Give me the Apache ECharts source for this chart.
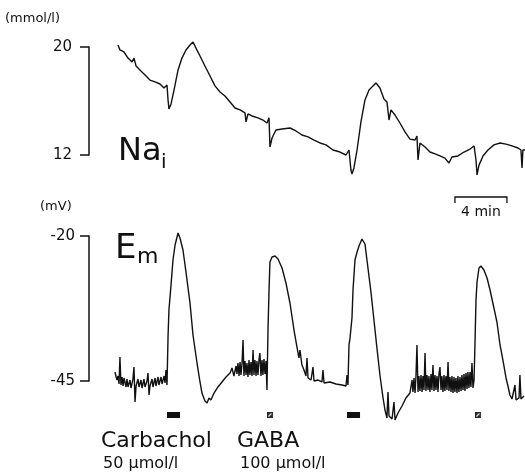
<!DOCTYPE html>
<html><head><meta charset="utf-8">
<script src="https://cdn.jsdelivr.net/npm/echarts@6/dist/echarts.min.js"></script>
<style>html,body{margin:0;padding:0;background:#fff}#c{width:525px;height:472px}</style>
</head><body><div id="c"></div>
<script>
// time in minutes, Na_i in mmol/l
const naTime = [2.23,2.38,2.69,3.00,3.31,3.46,3.62,3.92,4.31,4.69,
5.08,5.46,5.77,6.00,6.08,6.15,6.31,6.54,6.85,7.15,
7.46,7.77,8.00,8.23,8.54,8.92,9.31,9.69,10.08,10.46,
10.85,11.23,11.62,12.00,12.08,12.23,12.54,13.00,13.38,13.69,
13.85,13.92,14.08,14.38,14.85,15.46,15.92,16.38,16.85,17.31,
17.77,18.23,18.77,19.31,19.77,20.00,20.15,20.23,20.38,20.62,
20.92,21.23,21.54,21.85,22.08,22.38,22.69,22.92,23.08,23.23,
23.54,23.92,24.31,24.69,25.08,25.23,25.31,25.46,25.85,26.23,
26.62,27.00,27.38,27.69,27.92,28.38,28.85,29.31,29.62,29.77,
29.85,30.00,30.31,30.69,31.15,31.62,32.08,32.54,33.00,33.23,
33.31,33.38,33.54];
const naValue = [20.15,19.78,19.63,19.18,18.89,19.18,18.59,18.30,17.92,17.55,
17.41,17.26,16.96,17.18,16.08,15.41,15.78,16.81,18.30,19.18,
19.78,20.15,20.37,19.92,19.33,18.59,17.85,17.12,16.67,16.37,
15.93,15.48,15.34,15.12,14.45,15.04,14.89,14.75,14.59,14.37,
14.75,12.59,13.26,13.85,13.93,14.00,13.78,13.48,13.34,13.11,
12.89,12.75,12.37,12.22,12.00,12.37,10.89,10.59,11.04,12.37,
14.45,16.08,16.81,17.12,17.33,16.96,16.14,15.93,14.59,15.34,
14.96,14.37,13.71,13.18,13.11,13.41,11.63,12.89,12.59,12.22,
12.08,11.93,11.77,11.41,11.85,11.93,12.22,12.44,12.67,11.63,
10.52,11.25,11.93,12.37,12.75,12.89,12.81,12.67,12.52,12.37,
11.04,12.37,12.37];

// [time (min), E_m (mV)]
const emTrace = [
[2.00,-43.45],[2.15,-44.83],[2.23,-44.14],[2.31,-45.52],[2.38,-40.86],[2.46,-45.69],[2.54,-44.31],[2.62,-45.86],[2.69,-44.48],[2.85,-46.03],[2.92,-44.66],[3.00,-46.03],[3.15,-44.83],[3.23,-46.21],[3.38,-44.66],[3.46,-42.59],[3.54,-48.62],[3.62,-45.86],[3.77,-44.66],[3.85,-46.03],[4.00,-44.83],[4.08,-46.21],[4.23,-44.66],[4.31,-46.03],[4.46,-45.00],[4.54,-43.62],[4.62,-47.41],[4.69,-45.86],[4.85,-44.66],[4.92,-46.03],[5.08,-44.48],[5.15,-45.86],[5.31,-44.31],[5.38,-45.69],[5.54,-44.31],[5.62,-45.52],[5.77,-44.14],[5.85,-45.34],[5.92,-43.10],[6.00,-45.69],
[6.08,-37.41],[6.15,-32.76],[6.31,-28.45],[6.46,-24.14],[6.62,-21.55],[6.85,-19.48],[7.00,-20.34],[7.23,-22.41],[7.46,-26.21],[7.77,-31.55],[8.00,-37.07],[8.31,-41.90],[8.54,-45.17],[8.69,-47.07],[8.92,-48.45],[9.08,-48.79],[9.23,-47.93],[9.38,-48.28],[9.62,-47.07],[9.92,-46.03],[10.23,-45.17],[10.54,-44.31],
[10.85,-43.62],[11.00,-42.76],[11.15,-44.14],
[11.31,-42.41],[11.38,-43.79],[11.46,-41.90],[11.54,-44.14],[11.62,-41.72],[11.69,-43.97],[11.77,-42.07],[11.85,-37.93],[11.92,-44.14],[12.00,-41.55],[12.08,-43.97],[12.15,-41.90],[12.23,-44.31],[12.31,-41.38],[12.38,-43.97],[12.46,-41.72],[12.54,-44.14],[12.62,-39.66],[12.69,-43.97],[12.77,-41.38],[12.85,-44.14],[12.92,-41.55],[13.00,-43.97],[13.08,-41.21],[13.15,-40.17],[13.23,-44.14],[13.31,-41.38],[13.38,-43.97],[13.46,-41.21],[13.54,-43.79],[13.62,-41.55],[13.69,-46.55],
[13.77,-36.21],[13.85,-29.31],[13.92,-24.48],[14.08,-23.62],[14.31,-23.45],[14.54,-23.97],[14.85,-25.52],[15.15,-28.10],[15.46,-31.55],[15.77,-36.21],[16.00,-39.14],[16.15,-41.03],[16.23,-39.66],[16.38,-42.24],[16.54,-43.10],[16.69,-44.14],[16.77,-41.03],[16.85,-44.48],[17.08,-44.83],[17.23,-42.59],[17.31,-45.00],[17.62,-44.83],[17.92,-45.17],[18.00,-43.10],[18.08,-45.34],[18.54,-45.17],[19.00,-45.52],[19.46,-45.69],[19.77,-45.86],[19.85,-43.97],[19.92,-45.69],
[20.00,-38.79],[20.08,-37.59],[20.23,-34.14],[20.31,-29.31],[20.46,-24.14],[20.62,-22.76],[20.77,-21.72],[21.00,-20.52],[21.23,-21.38],[21.46,-25.52],[21.69,-29.66],[21.92,-34.48],[22.15,-39.31],[22.38,-43.97],[22.62,-47.93],[22.77,-50.00],[22.92,-51.38],[23.00,-46.90],[23.08,-51.03],[23.31,-51.55],[23.46,-48.62],[23.54,-51.72],[23.77,-50.52],[24.08,-49.31],[24.38,-47.93],
[24.69,-47.07],[24.85,-44.83],[24.92,-46.90],[25.00,-44.48],[25.08,-47.07],[25.15,-44.31],[25.23,-38.79],[25.31,-46.90],[25.38,-44.14],[25.46,-46.72],[25.54,-43.97],[25.62,-46.90],[25.69,-44.14],[25.77,-46.55],[25.85,-40.17],[25.92,-46.72],[26.00,-43.97],[26.08,-46.55],[26.15,-44.14],[26.23,-46.90],[26.31,-43.79],[26.38,-46.55],[26.46,-42.24],[26.54,-46.72],[26.62,-43.97],[26.69,-46.55],[26.77,-44.14],[26.85,-46.90],[26.92,-43.79],[27.00,-42.59],[27.08,-46.55],[27.15,-44.14],[27.23,-46.90],[27.31,-43.97],[27.38,-46.72],[27.46,-44.14],[27.54,-46.55],[27.62,-41.72],[27.69,-46.72],[27.77,-44.31],[27.85,-46.90],[27.92,-44.14],[28.00,-47.07],[28.08,-44.31],[28.15,-46.90],[28.23,-44.48],[28.31,-47.07],[28.38,-44.14],[28.46,-46.90],[28.54,-44.31],[28.62,-46.72],[28.69,-43.97],[28.77,-46.55],[28.85,-43.79],[28.92,-46.72],[29.00,-43.62],[29.08,-46.38],[29.15,-43.45],[29.23,-46.21],[29.31,-43.45],[29.38,-46.03],[29.46,-41.90],[29.54,-46.21],[29.62,-44.83],
[29.69,-38.79],[29.77,-31.03],[29.85,-27.93],[30.00,-25.52],[30.15,-25.17],[30.38,-25.86],[30.62,-27.24],[30.85,-29.31],[31.15,-32.41],[31.38,-34.83],[31.62,-38.79],[31.77,-40.52],[31.92,-42.41],[32.08,-44.48],[32.23,-45.86],[32.38,-47.41],[32.54,-48.10],[32.69,-47.76],[32.77,-45.69],[32.85,-48.28],[33.08,-47.93],[33.15,-43.97],[33.23,-48.10],[33.46,-47.59]
];

const naTicks = [12, 20];
const emTicks = [-45, -20];
const stimStart = [6.00, 13.69, 19.85, 29.69];
const stimEnd   = [7.00, 14.15, 20.85, 30.15];
const stimKind  = ['Carbachol', 'GABA', 'Carbachol', 'GABA'];
const scaleBar  = [28.15, 4]; // start (min), length (min)

const FONT = 'DejaVu Sans';
const INK = '#111';
const tMax = 33.54;

const chart = echarts.init(document.getElementById('c'), null, {renderer: 'canvas'});

function yAxisCfg(grid, min, max, interval, ticks, margin) {
  return {
    gridIndex: grid, type: 'value', min: min, max: max, interval: interval,
    splitLine: {show: false},
    axisLine: {show: true, lineStyle: {color: INK, width: 1.5}},
    axisTick: {show: true, length: 9, customValues: ticks, lineStyle: {color: INK, width: 1.5}},
    axisLabel: {customValues: ticks, color: INK, fontSize: 15, fontFamily: FONT, margin: margin}
  };
}

const option = {
  animation: false,
  backgroundColor: '#fff',
  grid: [
    {left: 89, top: 47, width: 436, height: 108},
    {left: 89, top: 236, width: 436, height: 145}
  ],
  xAxis: [
    {gridIndex: 0, type: 'value', min: 0, max: tMax, show: false},
    {gridIndex: 1, type: 'value', min: 0, max: tMax, show: false}
  ],
  yAxis: [
    yAxisCfg(0, 12, 20, 4, naTicks, 17),
    yAxisCfg(1, -45, -20, 5, emTicks, 14)
  ],
  series: [
    {
      type: 'line', xAxisIndex: 0, yAxisIndex: 0, clip: false, silent: true,
      showSymbol: false, symbol: 'none',
      data: naTime.map((t, i) => [t, naValue[i]]),
      lineStyle: {color: INK, width: 1.4}
    },
    {
      type: 'line', xAxisIndex: 1, yAxisIndex: 1, clip: false, silent: true,
      showSymbol: false, symbol: 'none',
      data: emTrace,
      lineStyle: {color: INK, width: 1.4}
    },
    {
      type: 'custom', xAxisIndex: 1, yAxisIndex: 1, silent: true,
      data: stimStart.map((s, i) => [s, stimEnd[i], -45]),
      encode: {x: [0, 1], y: 2},
      renderItem: function (params, api) {
        const p0 = api.coord([api.value(0), api.value(2)]);
        const p1 = api.coord([api.value(1), api.value(2)]);
        const y = p0[1] + 31, h = 6, w = p1[0] - p0[0];
        const kind = stimKind[params.dataIndex];
        if (kind === 'Carbachol') {
          return {type: 'rect', shape: {x: p0[0], y: y, width: w, height: h}, style: {fill: INK}};
        }
        return {type: 'group', children: [
          {type: 'rect', shape: {x: p0[0], y: y, width: w, height: h}, style: {fill: '#2a2a2a'}},
          {type: 'line', shape: {x1: p0[0] + 1.5, y1: y + h - 1.5, x2: p0[0] + w - 1.5, y2: y + 1.5}, style: {stroke: '#ddd', lineWidth: 1.2}}
        ]};
      }
    },
    {
      type: 'custom', xAxisIndex: 1, yAxisIndex: 1, silent: true,
      data: [[scaleBar[0], scaleBar[0] + scaleBar[1], -20]],
      encode: {x: [0, 1], y: 2},
      renderItem: function (params, api) {
        const p0 = api.coord([api.value(0), api.value(2)]);
        const p1 = api.coord([api.value(1), api.value(2)]);
        const y = p0[1] - 39;
        return {type: 'group', children: [
          {type: 'polyline', shape: {points: [[p0[0], y + 6], [p0[0], y], [p1[0], y], [p1[0], y + 6]]}, style: {stroke: INK, lineWidth: 1.3, fill: null}},
          {type: 'text', x: (p0[0] + p1[0]) / 2, y: y + 15, style: {text: scaleBar[1] + ' min', fill: INK, font: '14px ' + FONT, align: 'center', verticalAlign: 'middle'}}
        ]};
      }
    }
  ],
  graphic: [
    {type: 'text', left: 5, top: 12, style: {text: '(mmol/l)', fill: INK, font: '13px ' + FONT}},
    {type: 'text', x: 118, y: 152, style: {text: 'Na', fill: INK, font: '32px ' + FONT, verticalAlign: 'middle'}},
    {type: 'text', x: 161, y: 163, style: {text: 'i', fill: INK, font: '20px ' + FONT, verticalAlign: 'middle'}},
    {type: 'text', x: 40, y: 207, style: {text: '(mV)', fill: INK, font: '13px ' + FONT, verticalAlign: 'middle'}},
    {type: 'text', x: 115, y: 249, style: {text: 'E', fill: INK, font: '34px ' + FONT, verticalAlign: 'middle'}},
    {type: 'text', x: 137, y: 257, style: {text: 'm', fill: INK, font: '22px ' + FONT, verticalAlign: 'middle'}},
    {type: 'text', x: 101, y: 441, style: {text: 'Carbachol', fill: INK, font: '22px ' + FONT, verticalAlign: 'middle'}},
    {type: 'text', x: 237, y: 441, style: {text: 'GABA', fill: INK, font: '22px ' + FONT, verticalAlign: 'middle'}},
    {type: 'text', x: 103, y: 464, style: {text: '50 μmol/l', fill: INK, font: '16px ' + FONT, verticalAlign: 'middle'}},
    {type: 'text', x: 240, y: 464, style: {text: '100 μmol/l', fill: INK, font: '16px ' + FONT, verticalAlign: 'middle'}}
  ]
};
chart.setOption(option);
</script>
</body></html>
